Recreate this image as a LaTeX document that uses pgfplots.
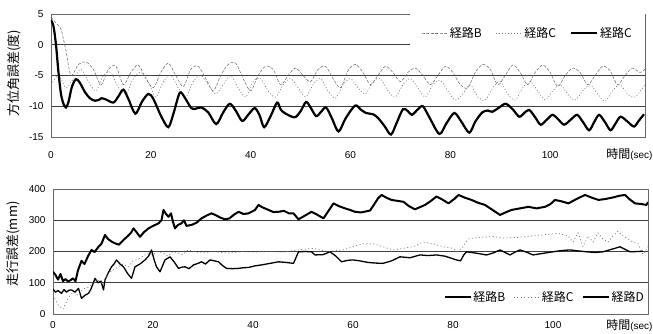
\documentclass[border=0pt]{standalone}
\usepackage{pgfplots}
\pgfplotsset{compat=1.18}
\usepackage{fontspec}
\setmainfont{Liberation Sans}
\newfontfamily\jp{Noto Sans CJK JP}

\begin{document}
\begin{tikzpicture}
\useasboundingbox (0,0) rectangle (653pt,334pt);
\pgfplotsset{
  common/.style={
    scale only axis, anchor=south west, xmin=0, xmax=119,
    xtick={0,20,40,60,80,100},
    major tick length=0pt,
    ymajorgrids, major grid style={black!75,line width=0.7pt},
    axis line style={black!60,line width=0.5pt},
    tick label style={font=\fontsize{10}{12}\selectfont},
    /pgf/number format/assume math mode=true,
    yticklabel style={xshift=-4pt},
    legend cell align=left,
  }
}
% ---------------- top panel ----------------
\begin{axis}[common, at={(51pt,197pt)}, width=594pt, height=123pt,
  ymin=-15, ymax=5, ytick={-15,-10,-5,0,5},
  xticklabel style={yshift=-11pt},
  ylabel={\jp\fontsize{13}{13}\selectfont 方位角誤差(度)},
  ylabel style={at={(axis description cs:-0.062,0.52)}, anchor=center},
  xlabel={{\jp\fontsize{12}{12}\selectfont 時間}{\fontsize{10}{10}\selectfont(sec)}},
  xlabel style={at={(axis description cs:1.013,-0.146)}, anchor=east, inner sep=0pt},
  legend image code/.code={\draw[mark repeat=2,mark phase=2,#1] plot coordinates {(0pt,0pt) (13pt,0pt) (26pt,0pt)};},
  legend style={at={(axis description cs:1,1)}, anchor=north east, draw=none, fill=white,
    inner xsep=11pt, inner ysep=11pt, legend columns=3,
    font=\jp\fontsize{12}{12}\selectfont,
    /tikz/every even column/.append style={column sep=12pt}},
]
\addplot[black!60, line width=0.5pt, dash pattern=on 3pt off 1.5pt, smooth, tension=0.5] coordinates {
(0,4.5)(1,3.5)(2,2.5)(3,-1)(4,-5)(5.5,-3.2)(7,-2.8)(8.5,-4)(10,-6.5)(11.5,-4)(13,-3.5)(14.5,-6.5)(16,-4.5)(17.5,-3.3)(19,-5.5)(20.5,-7)(22,-4.5)(23.5,-3)(25,-5)(26.5,-6.8)(28,-4)(29.5,-3.5)(31,-5.5)(32.5,-7.5)(34,-5)(35.5,-3.2)(37,-3)(38.5,-5.5)(40,-7.5)(41.5,-5)(43,-3.5)(44.5,-4)(46,-6.5)(47.5,-5)(49,-3.8)(50.5,-5)(52,-6)(53.5,-4)(55,-3.5)(56.5,-5.5)(58,-7)(59.5,-4.2)(61,-3.2)(62.5,-4.5)(64,-6.5)(65.5,-5)(67,-3.5)(68.5,-4.5)(70,-6)(71.5,-4.5)(73,-3.8)(74.5,-5)(76,-6.5)(77.5,-5)(79,-3.5)(80.5,-4.5)(82,-6.5)(83.5,-7)(85,-4.5)(86.5,-3.2)(88,-4)(89.5,-6.5)(91,-5)(92.5,-3.3)(94,-4.5)(95.5,-6.5)(97,-4.5)(98.5,-3.3)(100,-4.5)(101.5,-6.8)(103,-5)(104.5,-3.8)(106,-4.5)(107.5,-6.5)(109,-5)(110.5,-3.5)(112,-4.2)(113.5,-6.5)(115,-5)(116.5,-3.8)(118,-4.5)(119,-4)
};
\addlegendentry{経路B}
\addplot[black!55, line width=0.6pt, dash pattern=on 1pt off 2pt, smooth, tension=0.5] coordinates {
(0,-6.5)(1.5,-5)(3,-7)(4.5,-5.5)(6,-4)(7.5,-6)(9,-7.5)(10.5,-5)(12,-4.5)(13.5,-7)(15,-8)(16.5,-5.5)(18,-4.5)(19.5,-6)(21,-8.5)(22.5,-6)(24,-5)(25.5,-7)(27,-8.5)(28.5,-6)(30,-5)(31.5,-6.5)(33,-8)(34.5,-6.5)(36,-5)(37.5,-7)(39,-8.5)(40.5,-6)(42,-5.5)(43.5,-7.5)(45,-8.5)(46.5,-6.5)(48,-5.5)(49.5,-7)(51,-8.5)(52.5,-6.5)(54,-5.5)(55.5,-7.5)(57,-8.7)(58.5,-6.5)(60,-5.5)(61.5,-7)(63,-8)(64.5,-6)(66,-5.5)(67.5,-7.5)(69,-8.5)(70.5,-6.5)(72,-5.5)(73.5,-7)(75,-8.5)(76.5,-6.5)(78,-5.8)(79.5,-7.5)(81,-9)(82.5,-8)(84,-6.5)(85.5,-8.5)(87,-9)(88.5,-7)(90,-6)(91.5,-8)(93,-9)(94.5,-7)(96,-6)(97.5,-7.5)(99,-9)(100.5,-7.5)(102,-6.5)(103.5,-8)(105,-9)(106.5,-7.5)(108,-6.5)(109.5,-8)(111,-9.2)(112.5,-7.5)(114,-6.5)(115.5,-8)(117,-8.5)(119,-6.5)
};
\addlegendentry{経路C}
\addplot[black, line width=2.2pt, smooth, tension=0.5] coordinates {
(0,4)(0.5,3)(1,0)(1.5,-4.5)(2,-8)(2.5,-9.6)(3,-10.2)(3.5,-9.3)(4.2,-6.8)(5,-5.6)(5.8,-6.2)(6.8,-7.7)(7.8,-8.7)(8.8,-9.1)(9.5,-9)(10.1,-8.7)(11,-8.9)(12.5,-9.4)(13.5,-8.4)(14.5,-7.3)(15.5,-8.8)(16.9,-11.2)(18.2,-9.3)(19.5,-8)(20.5,-8.8)(22,-11.5)(23.5,-13.4)(24.6,-11)(25.8,-7.8)(26.8,-8.6)(28.1,-10.3)(29,-10.4)(30.1,-10.2)(31.5,-11)(33.1,-12.9)(34.5,-11)(35.8,-9.6)(37,-10.7)(38.3,-12.4)(39.5,-11.4)(40.8,-10.3)(41.8,-11.5)(42.7,-13.4)(44,-11.6)(45.3,-9.4)(46,-10.5)(46.8,-11.1)(48.8,-11.8)(50,-10.8)(51.1,-9.3)(52,-10.2)(53.1,-11.6)(54,-11)(55.1,-10.2)(56.3,-12)(57.6,-14.1)(59,-12)(60.9,-9.9)(62,-10.5)(63.1,-11.1)(64.5,-11.3)(65.5,-11.9)(66.8,-13.2)(68.1,-14.6)(69.2,-12.8)(70.5,-10.5)(71.5,-10.8)(72.3,-11.4)(73.5,-10.5)(74.5,-10.0)(75.8,-11.8)(77.8,-14.5)(79.2,-12.8)(80.8,-11.1)(82.2,-12.5)(83.8,-14.3)(85,-12.5)(86.4,-11)(87.5,-10.7)(88.4,-10.9)(89.8,-10.2)(91.1,-9.6)(92.5,-10.5)(93.8,-11.7)(94.8,-11.1)(95.8,-10.6)(97,-11.8)(98.1,-13)(99.3,-12.2)(100.5,-11.4)(101.7,-12.2)(102.8,-13)(104.1,-12.2)(105.4,-11.4)(106.6,-12.6)(107.8,-13.9)(108.8,-12.6)(109.8,-11.4)(111,-12.6)(112.1,-13.9)(113.1,-12.8)(114.1,-11.7)(115.5,-12.5)(116.8,-13.3)(117.8,-12.3)(118.8,-11.3)
};
\addlegendentry{経路C}
\end{axis}
% ---------------- bottom panel ----------------
\begin{axis}[common, at={(53pt,20pt)}, width=595pt, height=125pt,
  ymin=0, ymax=400, ytick={0,100,200,300,400},
  xticklabel style={yshift=-4pt},
  ylabel={\jp\fontsize{13}{13}\selectfont 走行誤差(mm)},
  ylabel style={at={(axis description cs:-0.066,0.56)}, anchor=center},
  xlabel={{\jp\fontsize{12}{12}\selectfont 時間}{\fontsize{10}{10}\selectfont(sec)}},
  xlabel style={at={(axis description cs:1.008,-0.088)}, anchor=east, inner sep=0pt},
  legend image code/.code={\draw[mark repeat=2,mark phase=2,#1] plot coordinates {(0pt,0pt) (13pt,0pt) (26pt,0pt)};},
  legend style={at={(axis description cs:1,0.136)}, anchor=east, draw=none, fill=none,
    inner xsep=2pt, legend columns=3,
    font=\jp\fontsize{12}{12}\selectfont,
    /tikz/every even column/.append style={column sep=6pt}},
  line join=round,
]
\addplot[black, line width=1.3pt] coordinates {
(0,80)(0.5,70)(1,75)(1.7,66)(2.2,78)(2.7,70)(3.2,76)(3.7,77)(4.4,70)(5.1,82)(5.7,50)(6.4,60)(7.1,66)(7.6,80)(8.4,114)(9,100)(9.6,105)(10.1,77)(10.4,109)(11,130)(11.7,151)(12.2,160)(12.7,173)(13.4,160)(14.1,151)(14.9,130)(15.7,114)(16.4,151)(17.4,160)(18.4,173)(19.1,185)(19.7,205)(20.2,175)(20.7,151)(21.4,135)(22.4,173)(23.4,183)(24.3,165)(25.1,146)(25.8,150)(26.4,151)(27.2,145)(28.1,157)(29,162)(29.7,167)(30.5,160)(31.4,173)(32.3,170)(33.1,167)(33.9,155)(34.7,146)(35.9,145)(37.1,146)(38.1,148)(39.1,149)(40.4,154)(41.7,157)(43.4,162)(45.1,167)(46.6,165)(48.1,162)(49.1,199)(50.4,200)(51.7,199)(52.4,189)(54,190)(55.4,199)(56.6,185)(57.7,167)(59,172)(60,173)(61.4,170)(63,165)(64.5,163)(66,162)(67.7,170)(69.4,183)(71.4,180)(73.4,189)(75,187)(76.7,189)(78.4,185)(80.7,173)(81.5,170)(82.2,190)(82.7,199)(84.5,195)(86.7,189)(88,195)(89.4,205)(90.4,197)(91.4,189)(92.4,198)(93.4,205)(94.7,198)(96,189)(98,194)(100,199)(101.7,203)(103.4,205)(105,202)(106.7,199)(108.4,197)(110,199)(111.7,207)(113.4,215)(114.4,207)(115.4,199)(117,200)(118,201)
};
\addlegendentry{経路B}
\addplot[black!55, line width=0.7pt, dash pattern=on 1pt off 2.5pt] coordinates {
(0,60)(1,30)(2,15)(3,50)(4,70)(5,60)(6,80)(7,85)(8,100)(9,110)(10,95)(11,130)(12,140)(13,150)(14,160)(15,150)(16,170)(17,175)(18,185)(19,195)(20,190)(21,200)(22,195)(23,185)(24,200)(25,195)(26,190)(27,205)(28,200)(30,195)(32,200)(35,195)(38,200)(40,198)(43,200)(46,198)(49,205)(52,210)(55,200)(58,205)(60,215)(62,225)(64,225)(66,215)(68,205)(70,210)(72,215)(74,230)(76,225)(78,215)(80,210)(81,200)(82,215)(83,240)(85,245)(88,248)(90,243)(93,245)(96,250)(99,255)(101,258)(103,250)(104,230)(105,260)(106,215)(107,250)(108,230)(109,260)(110,240)(111,230)(112,250)(113,265)(114,250)(115,240)(116,230)(117,225)(118,190)(119,215)
};
\addlegendentry{経路C}
\addplot[black, line width=2pt] coordinates {
(0,135)(0.5,125)(1,110)(1.5,128)(2,105)(2.5,112)(3,104)(3.5,108)(4,114)(4.5,105)(5,140)(5.7,170)(6.3,160)(7,185)(7.7,205)(8.3,198)(9.1,215)(9.7,225)(10.4,253)(11,240)(11.7,232)(12.4,226)(13.2,222)(14.1,237)(15,250)(15.6,260)(16.1,274)(16.8,260)(17.4,247)(18.2,262)(19.1,274)(20,282)(21.1,290)(21.7,300)(22.1,333)(22.6,320)(23.1,311)(23.6,322)(24,295)(24.4,274)(25,285)(25.7,290)(26.2,300)(26.7,282)(27.7,285)(28.7,292)(29.7,306)(30.7,315)(31.7,322)(32.6,316)(33.5,308)(34.4,303)(35.3,306)(36.2,318)(37.1,327)(38.1,320)(39.1,322)(40.4,333)(41.1,349)(41.8,342)(43.1,333)(44.1,326)(45.1,327)(46.2,330)(47.2,322)(48.1,322)(49.1,303)(50.4,315)(51.7,327)(52.8,318)(54.1,306)(55.1,330)(56.1,354)(57.2,345)(58.4,338)(59.4,333)(60.4,327)(61.6,325)(62.5,328)(63.4,331)(64.2,350)(65.0,370)(65.7,381)(66.7,372)(67.7,365)(68.9,362)(70.1,359)(71.2,345)(72.4,335)(73.4,342)(74.4,349)(75.6,362)(76.7,376)(77.9,366)(79.1,354)(80.4,370)(81.1,381)(82.4,372)(83.7,365)(85,356)(86.4,349)(87.9,333)(89.4,317)(90.5,325)(91.7,333)(93.4,338)(95.1,343)(96.7,338)(98.4,343)(99.5,352)(100.4,365)(101.8,360)(103.1,354)(104.7,368)(106.4,381)(107.8,372)(109.1,365)(110.5,368)(112,373)(113.2,378)(114.4,381)(115.4,366)(116.4,354)(117.6,352)(118.7,349)(119,358)
};
\addlegendentry{経路D}
\end{axis}
\end{tikzpicture}
\end{document}
